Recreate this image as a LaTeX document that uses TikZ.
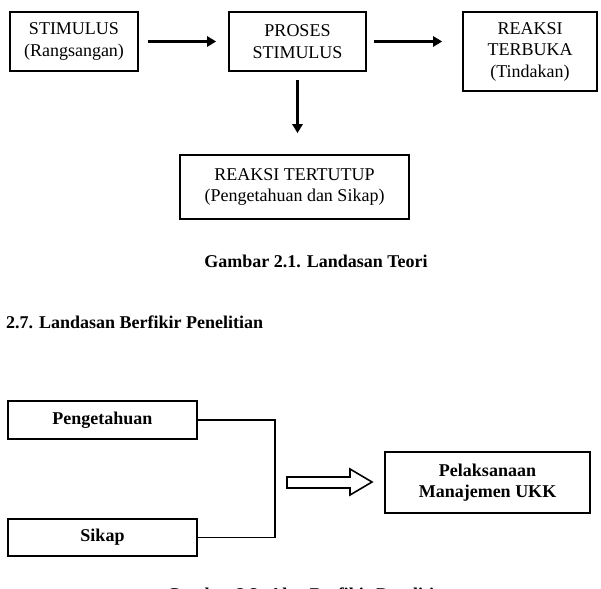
\documentclass[tikz,border=0pt]{standalone}
\usepackage{fontspec}
\setmainfont{Liberation Serif}
\usetikzlibrary{arrows.meta,calc}
\tikzset{
  box-plain/.style={
    draw=black,
    line width=1.6pt,
    align=center,
    inner sep=0pt,
    font=\fontsize{18}{21.5}\selectfont
  },
  box-bold/.style={
    box-plain,
    font=\fontsize{18}{21}\selectfont\bfseries
  },
  arrow-solid/.style={
    line width=3pt,
    -{Triangle[length=9pt,width=10pt]}
  },
  link/.style={line width=1.6pt},
  hollow-arrow/.style={line width=1.6pt, line join=miter, fill=white},
  caption-text/.style={font=\fontsize{18}{21}\selectfont\bfseries, inner sep=0pt}
}

\begin{document}
\begin{tikzpicture}[x=1pt,y=-1pt]
  \useasboundingbox (0,0) rectangle (601,588);
  % Gambar 2.1
  \node[box-plain, minimum width=128pt, minimum height=59pt] (stimulus) at (74,41.5) {STIMULUS\\(Rangsangan)};
  \node[box-plain, minimum width=137pt, minimum height=59pt] (proses) at (297.5,41.5) {PROSES\\STIMULUS};
  \node[box-plain, minimum width=134pt, minimum height=79pt] (terbuka) at (530,51.5) {REAKSI\\TERBUKA\\(Tindakan)};
  \node[box-plain, minimum width=229pt, minimum height=64pt] (tertutup) at (294.5,187) {REAKSI TERTUTUP\\(Pengetahuan dan Sikap)};
  \draw[arrow-solid, shorten <=9pt, shorten >=12pt] (stimulus) -- (proses);
  \draw[arrow-solid, shorten <=7pt, shorten >=20pt] (proses.east) -- (proses.east -| terbuka.west);
  \draw[arrow-solid, shorten <=8pt, shorten >=21pt] (proses.south) -- (proses.south |- tertutup.north);
  \node[caption-text] (cap-one) at (316,261) {Gambar 2.1. Landasan Teori};
  % Sub-bab
  \node[caption-text, anchor=west] (heading) at (6,322) {2.7. Landasan Berfikir Penelitian};
  % Gambar 2.2
  \node[box-bold, minimum width=189pt, minimum height=38pt] (pengetahuan) at (102.5,420) {Pengetahuan};
  \node[box-bold, minimum width=189pt, minimum height=37pt] (sikap) at (102.5,537.5) {Sikap};
  \node[box-bold, minimum width=205pt, minimum height=61pt] (pelaksanaan) at (487.5,482.5) {Pelaksanaan\\Manajemen UKK};
  \coordinate (join) at (275,479);
  \draw[link] (pengetahuan.east) -| (join) |- (sikap.east);
  \draw[hollow-arrow] (287,477) -- (350,477) -- (350,469) -- (372,482) -- (350,495) -- (350,488) -- (287,488) -- cycle;
  \node[caption-text, anchor=base] (cap-two) at (310,600) {Gambar 2.2. Alur Berfikir Penelitian};
\end{tikzpicture}
\end{document}
